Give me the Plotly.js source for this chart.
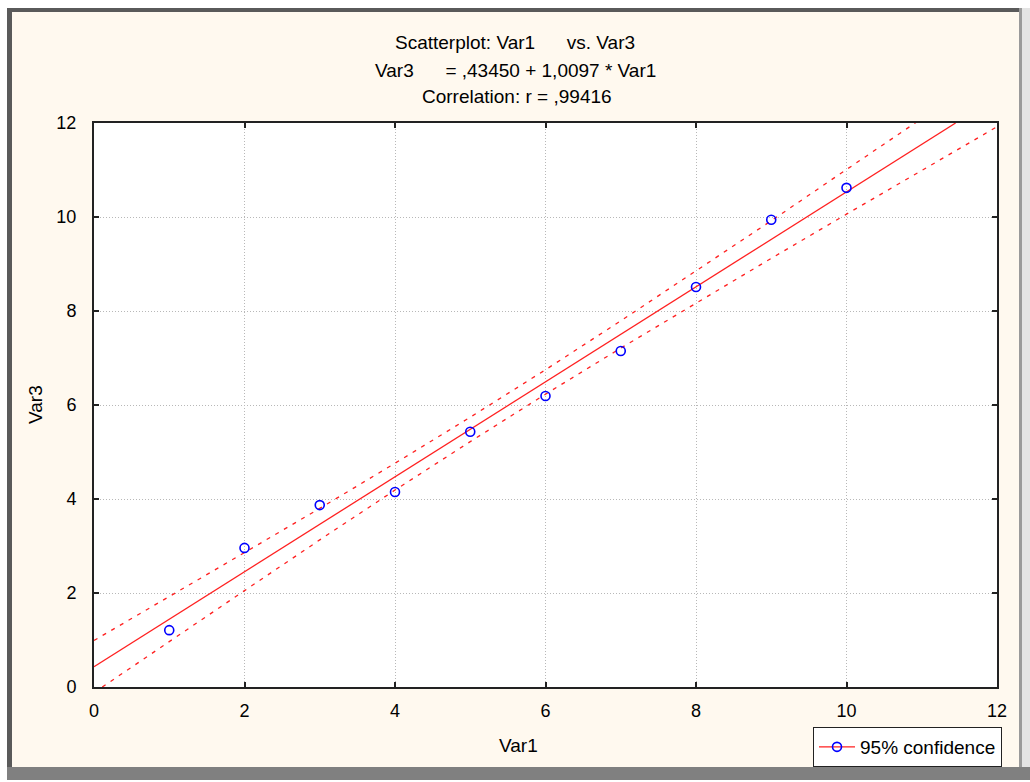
<!DOCTYPE html>
<html>
<head>
<meta charset="utf-8">
<script src="https://cdn.plot.ly/plotly-3.0.1.min.js"></script>
<style>html,body{margin:0;padding:0;background:#fff;}#chart{width:1030px;height:782px;}</style>
</head>
<body>
<div id="chart"></div>
<script>
// Data
const var1 = [1, 2, 3, 4, 5, 6, 7, 8, 9, 10];
const var3 = [1.21, 2.96, 3.87, 4.15, 5.43, 6.19, 7.15, 8.51, 9.94, 10.62];
const fitX = [0, 11.45];
const fitY = [0.43, 12.0];
const bandX = [0, 1, 2, 3, 4, 5, 6, 7, 8, 9, 10, 11, 12];
const bandUpper = [0.99, 1.92, 2.86, 3.80, 4.76, 5.74, 6.75, 7.79, 8.85, 9.92, 11.01, 12.09, 13.18];
const bandLower = [-0.12, 0.97, 2.05, 3.13, 4.19, 5.22, 6.23, 7.21, 8.17, 9.12, 10.06, 10.99, 11.92];
const tickVals = [0, 2, 4, 6, 8, 10, 12];
const titleLines = ["Scatterplot: Var1\u00A0\u00A0\u00A0\u00A0\u00A0 vs. Var3",
                    "Var3\u00A0\u00A0\u00A0\u00A0\u00A0 = ,43450 + 1,0097 * Var1",
                    "Correlation: r = ,99416"];
const xLabel = "Var1", yLabel = "Var3", legendName = "95% confidence";

// pixel helpers (plot area 94..997 x 123..687)
const L = 94, R = 997, T = 123, B = 687;
const px = p => (p - L) / (R - L);
const py = p => (B - p) / (B - T);
const FONT = "Liberation Sans, Arial, sans-serif";
const cream = "#FFF9EF";

const traces = [
  {x: bandX, y: bandUpper, mode: "lines", showlegend: false, hoverinfo: "skip",
   line: {color: "#FF2020", width: 1.3, dash: "4px,6px"}},
  {x: bandX, y: bandLower, mode: "lines", showlegend: false, hoverinfo: "skip",
   line: {color: "#FF2020", width: 1.3, dash: "4px,6px"}},
  {x: fitX, y: fitY, mode: "lines", showlegend: false,
   line: {color: "#FF2020", width: 1.3}},
  {x: var1, y: var3, mode: "markers", showlegend: false,
   marker: {symbol: "circle-open", size: 9, color: "#0000FF", line: {width: 1.6, color: "#0000FF"}}},
  {x: [null], y: [null], mode: "lines+markers", name: legendName, showlegend: true,
   line: {color: "#FF2020", width: 1.3},
   marker: {symbol: "circle-open", size: 9, color: "#0000FF", line: {width: 1.6, color: "#0000FF"}}}
];

function rect(x0p, y0p, x1p, y1p, color) {
  return {type: "rect", xref: "paper", yref: "paper", layer: "above",
          x0: px(x0p), x1: px(x1p), y0: py(y0p), y1: py(y1p),
          fillcolor: color, line: {width: 0}};
}

const axisCommon = {
  range: [0, 12], tickvals: tickVals, ticks: "inside", ticklen: 5, tickwidth: 2,
  tickcolor: "#222", showline: true, linecolor: "#222", linewidth: 2, mirror: "ticks",
  showgrid: true, gridcolor: "#B8B8B8", griddash: "1px,2px", gridwidth: 1, zeroline: false,
  tickfont: {family: FONT, size: 18, color: "#000"}, fixedrange: true
};

const layout = {
  width: 1030, height: 782,
  margin: {l: L, r: 1030 - R, t: T, b: 782 - B, pad: 0},
  paper_bgcolor: cream, plot_bgcolor: "#FFFFFF",
  font: {family: FONT, size: 20, color: "#000"},
  showlegend: true,
  xaxis: Object.assign({}, axisCommon, {ticklabelstandoff: 6}),
  yaxis: Object.assign({}, axisCommon, {ticklabelstandoff: 12}),
  legend: {x: px(813), y: py(727), xanchor: "left", yanchor: "top",
           bgcolor: "#FFFFFF", bordercolor: "#222", borderwidth: 1,
           font: {family: FONT, size: 19, color: "#000"}, itemwidth: 36},
  annotations: [
    {text: titleLines[0], xref: "paper", yref: "paper", x: px(515), y: py(42), showarrow: false,
     xanchor: "center", yanchor: "middle", font: {family: FONT, size: 19}},
    {text: titleLines[1], xref: "paper", yref: "paper", x: px(515), y: py(71), showarrow: false,
     xanchor: "center", yanchor: "middle", font: {family: FONT, size: 19}},
    {text: titleLines[2], xref: "paper", yref: "paper", x: px(517), y: py(96), showarrow: false,
     xanchor: "center", yanchor: "middle", font: {family: FONT, size: 19}},
    {text: xLabel, xref: "paper", yref: "paper", x: px(518), y: py(745), showarrow: false,
     xanchor: "center", yanchor: "middle", font: {family: FONT, size: 19}},
    {text: yLabel, xref: "paper", yref: "paper", x: px(35), y: py(405), showarrow: false,
     textangle: -90, xanchor: "center", yanchor: "middle", font: {family: FONT, size: 19}}
  ],
  shapes: [
    rect(0, 0, 1030, 8, "#FFFFFF"),
    rect(0, 0, 7, 782, "#FFFFFF"),
    rect(7, 8, 1020, 12, "#5A5A5A"),
    rect(7, 8, 12, 767, "#5A5A5A"),
    rect(1019, 8, 1022, 767, "#9A9A9A"),
    rect(1022, 8, 1030, 767, "#E4E4E4"),
    rect(7, 767, 1030, 780, "#808080"),
    rect(0, 780, 1030, 782, "#FFFFFF")
  ]
};

Plotly.newPlot("chart", traces, layout, {staticPlot: true, displayModeBar: false});
</script>
</body>
</html>
